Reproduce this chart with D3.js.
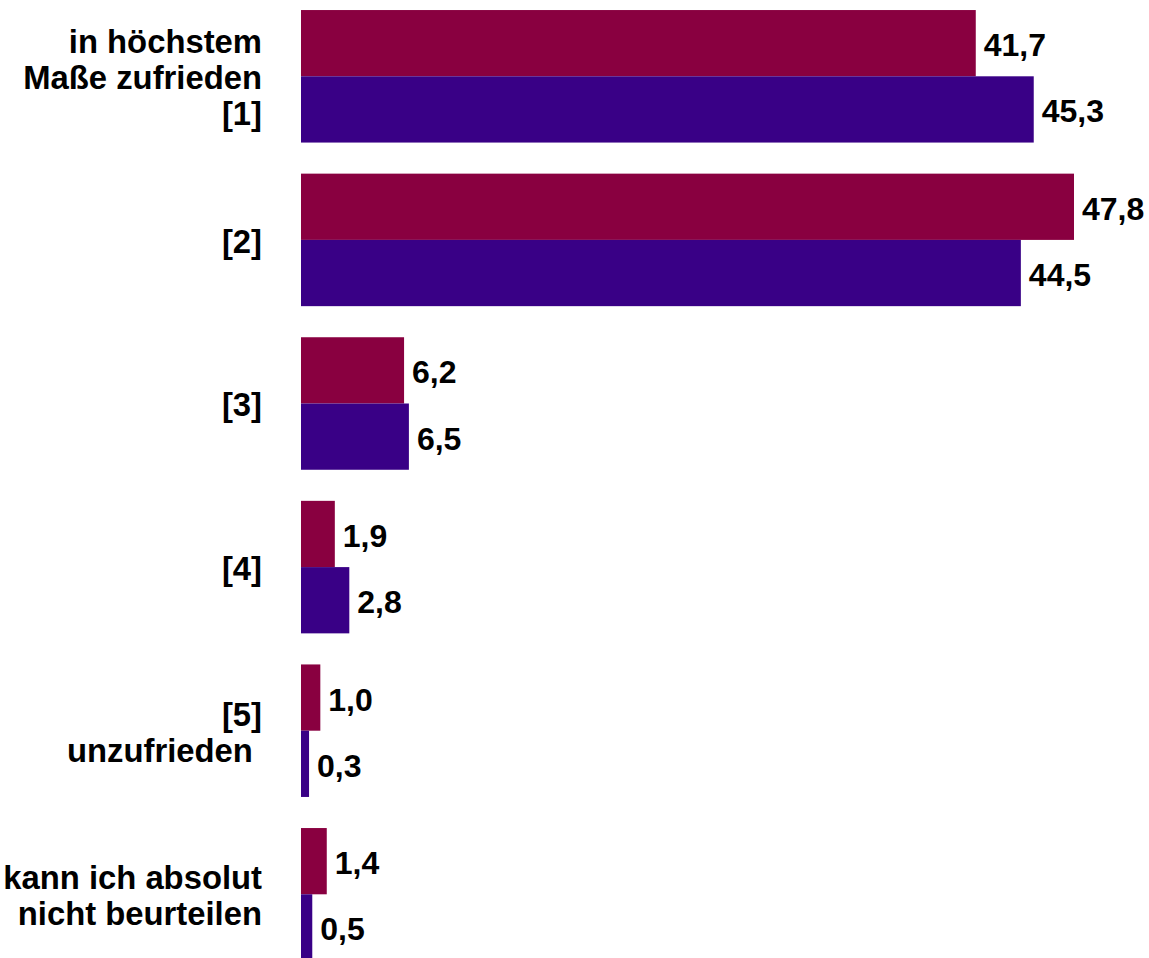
<!DOCTYPE html>
<html>
<head>
<meta charset="utf-8">
<script src="https://cdn.jsdelivr.net/npm/d3@7"></script>
<style>
  html, body { margin: 0; padding: 0; background: #ffffff; }
  svg { display: block; }
  text { font-family: "Liberation Sans", Arial, sans-serif; font-weight: bold; fill: #000; white-space: pre; }
</style>
</head>
<body>
<svg id="chart" width="1149" height="958"></svg>
<script>
// Categories (label lines)
const categories = [
  ["in höchstem", "Maße zufrieden", "[1]"],
  ["[2]"],
  ["[3]"],
  ["[4]"],
  ["[5]", "unzufrieden "],
  ["kann ich absolut", "nicht beurteilen"]
];
const seriesNames = ["A", "B"];
const seriesA = [41.7, 47.8, 6.2, 1.9, 1.0, 1.4];
const seriesB = [45.3, 44.5, 6.5, 2.8, 0.3, 0.5];
const valueLabelsA = ["41,7", "47,8", "6,2", "1,9", "1,0", "1,4"];
const valueLabelsB = ["45,3", "44,5", "6,5", "2,8", "0,3", "0,5"];
const colors = ["#890040", "#390086"];
const xDomain = [-0.2, 47.8];

const svg = d3.select("#chart");

const x = d3.scaleLinear().domain(xDomain).range([301, 1074]);
const y = d3.scaleBand()
  .domain(d3.range(categories.length))
  .range([-5.5, 976.1])
  .paddingInner(0.19)
  .paddingOuter(0.095);
const ySub = d3.scaleBand().domain(seriesNames).range([0, y.bandwidth()]);

const series = [seriesA, seriesB];
const labels = [valueLabelsA, valueLabelsB];

const groups = svg.selectAll("g.group")
  .data(categories.map((c, i) => i))
  .join("g")
  .attr("class", "group")
  .attr("transform", i => `translate(0,${y(i)})`);

seriesNames.forEach((s, si) => {
  groups.append("rect")
    .attr("x", x.range()[0])
    .attr("y", ySub(s))
    .attr("width", i => x(series[si][i]) - x.range()[0])
    .attr("height", ySub.bandwidth())
    .attr("fill", colors[si]);
  groups.append("text")
    .attr("x", i => x(series[si][i]) + 8)
    .attr("y", ySub(s) + ySub.bandwidth() / 2 + 13)
    .attr("font-size", 32)
    .text(i => labels[si][i]);
});

// Category labels
const lineH = 36;
groups.each(function(i) {
  const lines = categories[i];
  const n = lines.length;
  const cy = y.bandwidth() / 2 + 13;
  const t = d3.select(this).append("text")
    .attr("text-anchor", "end")
    .attr("font-size", 32.8);
  lines.forEach((ln, li) => {
    t.append("tspan")
      .attr("x", 262)
      .attr("y", cy + (li - (n - 1) / 2) * lineH)
      .text(ln);
  });
});
</script>
</body>
</html>
